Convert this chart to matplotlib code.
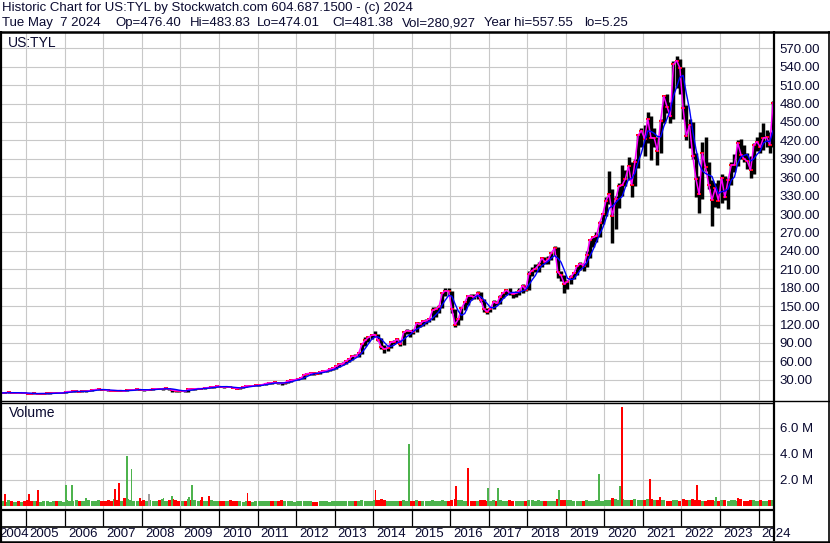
import matplotlib
matplotlib.use("Agg")
import matplotlib.pyplot as plt
import numpy as np
import pandas as pd

plt.rcParams["font.family"] = ["Liberation Sans", "DejaVu Sans"]

# monthly bars, May 2004 .. May 2024
close = [
    8.5, 8.9, 9.5, 8.8, 8.8, 8.5, 8.9, 8.4,
    7.5, 7.4, 7.6, 7.3, 7.5, 7.5, 7.6, 7.7, 8.3, 8.0, 8.8, 8.8,
    10.5, 10.8, 11.0, 11.3, 10.5, 11.1, 11.2, 12.0, 13.0, 14.0, 14.3, 14.1,
    13.5, 12.5, 12.2, 12.3, 12.2, 12.4, 11.5, 12.8, 13.3, 13.5, 14.5, 14.1,
    13.0, 13.0, 14.0, 14.5, 15.3, 14.4, 15.5, 16.0, 15.2, 13.0, 12.3, 12.0,
    12.0, 11.0, 14.9, 14.5, 15.0, 15.6, 15.5, 16.5, 17.1, 17.9, 18.3, 19.9,
    18.8, 17.9, 18.7, 17.9, 16.9, 15.5, 16.8, 18.0, 20.2, 19.5, 19.9, 20.8,
    21.0, 22.0, 23.7, 24.8, 24.5, 25.7, 24.6, 24.0, 25.3, 28.0, 29.2, 30.1,
    31.0, 32.5, 38.4, 40.0, 40.5, 40.4, 40.0, 43.0, 44.0, 45.0, 47.5, 48.4,
    52.0, 55.0, 56.0, 60.6, 63.3, 68.5, 68.0, 73.5, 87.5, 94.0, 98.9, 102.4,
    103.5, 95.0, 83.7, 80.0, 82.0, 91.0, 92.0, 95.8, 88.4, 107.0, 110.0, 109.4,
    108.0, 122.0, 120.6, 125.0, 126.0, 129.0, 143.0, 145.0, 149.0, 171.0, 175.0, 174.0,
    145.0, 120.0, 128.6, 146.4, 156.0, 166.8, 166.4, 164.6, 170.7, 159.8, 145.0, 141.0,
    146.0, 157.0, 154.5, 165.3, 172.0, 175.7, 172.0, 170.0, 171.0, 175.0, 183.0, 177.0,
    203.0, 208.0, 211.0, 217.0, 228.0, 222.0, 226.0, 237.0, 244.0, 205.0, 200.0, 186.0,
    190.0, 197.0, 204.0, 215.0, 219.0, 216.0, 233.0, 258.0, 262.0, 264.0, 285.0, 300.0,
    322.0, 332.0, 297.0, 324.0, 345.0, 347.0, 357.0, 378.0, 348.0, 385.0, 428.0, 436.0,
    423.0, 455.0, 424.0, 424.0, 403.0, 452.0, 492.0, 475.0, 459.0, 544.0, 550.0, 538.0,
    472.0, 427.0, 445.0, 395.0, 357.0, 332.0, 399.0, 376.0, 347.0, 323.0, 342.0, 322.0,
    359.0, 327.0, 355.0, 380.0, 380.0, 416.0, 397.0, 390.0, 386.0, 372.0, 412.0, 418.0,
    409.0, 424.0, 425.0, 413.0, 481.0,
]
high = [
    9.0, 9.3, 9.9, 9.6, 9.1, 9.0, 9.2, 9.1,
    8.5, 7.9, 7.9, 7.7, 7.7, 7.8, 7.9, 8.0, 8.5, 8.4, 9.0, 9.1,
    10.9, 11.2, 11.4, 11.8, 11.5, 11.4, 11.6, 12.3, 13.3, 14.4, 14.8, 14.6,
    14.5, 13.8, 12.9, 12.8, 12.8, 12.9, 12.6, 13.0, 13.6, 14.0, 15.0, 14.8,
    14.2, 13.6, 14.3, 14.9, 15.6, 15.5, 15.8, 16.4, 16.6, 15.3, 13.3, 12.4,
    12.8, 12.2, 15.1, 15.5, 15.5, 16.0, 16.0, 16.9, 17.5, 18.3, 18.8, 20.1,
    20.0, 19.0, 18.9, 19.2, 18.3, 17.2, 17.2, 18.3, 20.4, 20.5, 20.4, 21.0,
    21.5, 22.4, 24.0, 25.5, 25.4, 26.2, 26.4, 24.8, 26.5, 28.3, 29.6, 30.6,
    31.5, 33.0, 38.8, 40.9, 41.3, 41.0, 41.9, 43.5, 44.8, 45.8, 48.4, 49.8,
    53.0, 56.0, 58.5, 61.3, 64.5, 69.5, 72.0, 74.8, 88.6, 99.0, 101.0, 103.8,
    110.0, 105.0, 98.0, 86.0, 84.5, 92.0, 95.0, 97.5, 95.5, 108.5, 112.5, 111.5,
    112.0, 124.0, 124.5, 127.5, 129.0, 131.0, 149.0, 149.0, 151.0, 173.5, 180.0, 179.0,
    175.0, 146.0, 130.0, 148.0, 157.5, 168.0, 169.0, 169.5, 175.0, 172.5, 161.0, 147.0,
    149.0, 159.5, 159.0, 167.5, 173.5, 177.0, 180.0, 173.0, 174.0, 180.0, 185.5, 184.0,
    207.0, 214.0, 218.0, 222.0, 230.0, 230.5, 232.0, 238.0, 248.0, 246.0, 208.0, 201.0,
    192.0, 200.0, 206.0, 217.0, 222.0, 220.0, 239.0, 260.0, 265.0, 270.0, 288.0, 302.0,
    328.0, 370.0, 340.0, 330.0, 350.0, 380.0, 372.0, 393.0, 384.0, 390.0, 430.0, 440.0,
    445.0, 467.0, 460.0, 440.0, 425.0, 455.0, 494.0, 495.0, 482.0, 550.0, 557.5, 553.0,
    540.0, 478.0, 455.0, 450.0, 400.0, 362.0, 418.0, 425.0, 385.0, 355.0, 350.0, 355.0,
    365.0, 362.0, 358.0, 385.0, 398.0, 420.0, 422.0, 412.0, 400.0, 394.0, 415.0, 425.0,
    433.0, 448.0, 437.0, 433.0, 484.0,
]
low = [
    7.9, 8.3, 8.7, 8.4, 8.3, 8.0, 8.3, 8.1,
    7.2, 7.1, 7.2, 6.9, 7.1, 7.2, 7.3, 7.4, 7.6, 7.7, 7.9, 8.4,
    8.8, 10.1, 10.5, 10.8, 10.2, 10.3, 10.6, 11.0, 11.9, 12.8, 13.6, 13.8,
    13.1, 12.3, 11.8, 11.9, 11.9, 12.0, 11.2, 11.0, 12.5, 12.9, 13.4, 13.6,
    12.0, 12.5, 12.6, 13.6, 14.4, 14.2, 13.8, 15.0, 13.8, 10.5, 10.6, 10.5,
    11.2, 10.2, 10.4, 13.6, 13.9, 14.6, 14.6, 15.2, 16.1, 16.8, 17.3, 18.1,
    18.1, 17.2, 17.6, 17.6, 16.2, 15.3, 15.2, 16.6, 17.8, 19.2, 19.0, 19.6,
    20.1, 20.8, 21.6, 23.4, 23.6, 23.9, 23.8, 20.7, 23.0, 24.4, 26.8, 28.8,
    29.5, 30.6, 32.0, 37.2, 38.0, 37.3, 39.3, 39.4, 42.5, 42.3, 44.0, 46.0,
    48.0, 50.8, 54.0, 55.5, 59.5, 62.5, 66.4, 67.8, 72.5, 85.0, 91.5, 96.0,
    100.0, 92.5, 80.5, 74.0, 76.5, 82.0, 89.0, 90.0, 85.5, 86.0, 104.5, 100.0,
    104.0, 107.5, 116.0, 118.0, 121.5, 124.0, 127.5, 132.0, 138.0, 146.5, 167.0, 168.0,
    138.0, 116.0, 119.0, 127.5, 144.0, 152.0, 160.5, 162.0, 162.0, 156.0, 140.0, 136.5,
    140.5, 144.5, 151.0, 153.0, 164.0, 168.0, 167.5, 164.0, 165.5, 168.5, 172.0, 175.0,
    177.0, 199.0, 205.0, 206.0, 214.0, 218.0, 218.0, 225.0, 233.0, 195.0, 191.0, 172.0,
    178.0, 186.0, 194.0, 201.0, 209.0, 207.0, 214.0, 229.0, 247.0, 254.0, 263.0, 283.0,
    296.0, 317.0, 253.0, 275.0, 310.0, 330.0, 345.0, 355.0, 328.0, 345.0, 375.0, 410.0,
    395.0, 415.0, 388.0, 410.0, 380.0, 400.0, 448.0, 465.0, 448.0, 455.0, 505.0, 495.0,
    455.0, 420.0, 408.0, 390.0, 328.0, 301.0, 325.0, 370.0, 340.0, 281.0, 312.0, 310.0,
    318.0, 323.0, 308.0, 348.0, 368.0, 378.0, 390.0, 384.0, 373.0, 358.0, 366.0, 403.0,
    400.0, 405.0, 410.0, 400.0, 409.0,
]
volume_m = [
    0.40, 0.32, 0.45, 0.35, 0.30, 0.38, 0.34, 0.40,
    0.50, 0.40, 0.35, 0.38, 0.32, 0.40, 0.35, 0.30, 0.38, 0.36, 0.40, 0.34,
    0.45, 0.40, 0.38, 0.50, 0.42, 0.36, 0.40, 0.45, 0.38, 0.40, 0.43, 0.37,
    0.40, 0.45, 0.38, 0.55, 0.50, 0.42, 0.60, 0.55, 0.45, 0.40, 0.38, 0.42,
    0.45, 0.40, 0.50, 0.42, 0.38, 0.45, 0.55, 0.40, 0.50, 0.55, 0.45, 0.40,
    0.40, 0.38, 0.55, 0.50, 0.45, 0.40, 0.48, 0.42, 0.38, 0.45, 0.40, 0.38,
    0.40, 0.35, 0.38, 0.45, 0.40, 0.38, 0.35, 0.32, 0.40, 0.38, 0.34, 0.36,
    0.38, 0.40, 0.36, 0.42, 0.35, 0.38, 0.40, 0.45, 0.40, 0.42, 0.36, 0.34,
    0.35, 0.38, 0.42, 0.40, 0.36, 0.34, 0.32, 0.35, 0.38, 0.40, 0.34, 0.36,
    0.38, 0.40, 0.36, 0.42, 0.38, 0.40, 0.35, 0.38, 0.45, 0.42, 0.38, 0.36,
    0.45, 0.50, 0.55, 0.48, 0.42, 0.38, 0.40, 0.36, 0.40, 0.50, 0.42, 0.38,
    0.40, 0.45, 0.38, 0.42, 0.36, 0.38, 0.45, 0.40, 0.38, 0.50, 0.42, 0.40,
    0.50, 0.55, 0.45, 0.48, 0.40, 0.42, 0.40, 0.38, 0.36, 0.50, 0.45, 0.40,
    0.42, 0.48, 0.40, 0.45, 0.38, 0.40, 0.45, 0.40, 0.38, 0.42, 0.40, 0.36,
    0.45, 0.50, 0.42, 0.48, 0.40, 0.38, 0.42, 0.40, 0.38, 0.55, 0.48, 0.50,
    0.45, 0.50, 0.40, 0.42, 0.38, 0.40, 0.48, 0.42, 0.40, 0.45, 0.40, 0.38,
    0.45, 0.50, 0.65, 0.55, 0.50, 0.55, 0.45, 0.50, 0.48, 0.52, 0.46, 0.50,
    0.50, 0.55, 0.52, 0.48, 0.50, 0.45, 0.48, 0.40, 0.42, 0.50, 0.45, 0.40,
    0.55, 0.50, 0.45, 0.52, 0.48, 0.45, 0.42, 0.40, 0.45, 0.50, 0.42, 0.40,
    0.45, 0.48, 0.42, 0.50, 0.45, 0.40, 0.55, 0.42, 0.38, 0.48, 0.45, 0.40,
    0.45, 0.42, 0.40, 0.46, 0.50,
]

# single-day volume spikes (fractional year, millions, up/down/unchanged)
spike_when = [2004.45, 2005.08, 2005.31, 2006.04, 2006.19, 2006.56, 2007.31, 2007.41,
              2007.62, 2007.73, 2007.96, 2008.19, 2008.56, 2008.79, 2009.23, 2009.31,
              2009.57, 2009.73, 2010.74, 2014.06, 2014.92, 2016.14, 2016.45, 2016.99,
              2017.23, 2018.81, 2019.85, 2020.40, 2020.45, 2021.18, 2021.44, 2022.40,
              2022.89, 2023.46]
spike_vol = [0.92, 0.90, 1.20, 1.60, 1.65, 0.60, 1.30, 1.75,
             3.85, 2.85, 0.60, 0.90, 0.65, 0.80, 0.70, 1.60,
             0.70, 0.80, 1.00, 1.20, 4.80, 1.50, 2.90, 1.40,
             1.40, 1.25, 2.45, 1.55, 7.65, 2.05, 0.70, 1.60,
             0.70, 0.65]
spike_dir = ["dn", "dn", "dn", "up", "up", "up", "dn", "dn",
             "up", "up", "dn", "flat", "up", "up", "up", "up",
             "dn", "dn", "dn", "dn", "up", "dn", "dn", "up",
             "up", "up", "up", "up", "dn", "dn", "dn", "dn",
             "up", "dn"]

years = list(range(2004, 2025))
price_ticks = list(range(30, 571, 30))
volume_ticks = [2, 4, 6]

header = "Historic Chart for US:TYL by Stockwatch.com 604.687.1500 - (c) 2024"
quote_fields = [("Tue May  7 2024", 2), ("Op=476.40", 115), ("Hi=483.83", 190),
                ("Lo=474.01", 257), ("Cl=481.38", 332), ("Vol=280,927", 402),
                ("Year hi=557.55", 484), ("lo=5.25", 584)]

W, H = 830, 543
GRID = "#c8c8c8"
TXT = "#0a0a30"
DIR_COLORS = {"up": "#4db34d", "dn": "#ff0000", "flat": "#a0a0a0"}

dates = pd.date_range("2004-05-01", periods=len(close), freq="MS")
t = dates.year + (dates.month - 1) / 12 + 0.5 / 12
close_s = pd.Series(close)
slow_ma = close_s.rolling(4, min_periods=1).mean()
month_dir = np.where(close_s.diff().fillna(0) >= 0, "up", "dn")

fig = plt.figure(figsize=(W / 100, H / 100), dpi=100)


def px_axes(x0, y0, x1, y1):
    return fig.add_axes([x0 / W, 1 - y1 / H, (x1 - x0) / W, (y1 - y0) / H])


XMIN, XMAX = 2004.37, 2024.40

price_ax = px_axes(2, 33, 774, 400)
vol_ax = px_axes(2, 403, 774, 509)
year_ax = px_axes(2, 509, 774, 541)

for ax in (price_ax, vol_ax, year_ax):
    ax.set_xlim(XMIN, XMAX)
    for s in ax.spines.values():
        s.set_visible(False)
    ax.tick_params(length=0)

# price panel
price_ax.set_ylim(-3, 595)
price_ax.set_xticks(years[1:])
price_ax.set_xticklabels([])
price_ax.set_yticks(price_ticks)
price_ax.set_yticklabels([f"{v:.2f}" for v in price_ticks])
price_ax.yaxis.tick_right()
price_ax.tick_params(axis="y", pad=4, labelsize=9.5, labelcolor=TXT)
price_ax.grid(color=GRID, lw=0.8)
price_ax.set_axisbelow(True)
price_ax.vlines(t, low, high, color="black", lw=2.5, zorder=2)
price_ax.plot(t, close, ls="none", marker="_", ms=3.5, mew=1.4, color="red", zorder=3)
price_ax.plot(t, close, color="#ff00ff", lw=1.1, zorder=4)
price_ax.plot(t, slow_ma, color="#0000ff", lw=1.0, zorder=5)
price_ax.text(0.008, 0.974, "US:TYL", transform=price_ax.transAxes, fontsize=10,
              color=TXT, ha="left", va="center")

# volume panel
vol_ax.set_ylim(-0.23, 7.92)
vol_ax.set_xticks(years[1:])
vol_ax.set_xticklabels([])
vol_ax.set_yticks(volume_ticks)
vol_ax.set_yticklabels([f"{v:.1f} M" for v in volume_ticks])
vol_ax.yaxis.tick_right()
vol_ax.tick_params(axis="y", pad=4, labelsize=9.5, labelcolor=TXT)
vol_ax.grid(color=GRID, lw=0.8)
vol_ax.set_axisbelow(True)
vol_ax.bar(t, volume_m, width=0.08, color=[DIR_COLORS[d] for d in month_dir], zorder=2)
vol_ax.bar(spike_when, spike_vol, width=0.05, color=[DIR_COLORS[d] for d in spike_dir], zorder=3)
vol_ax.text(0.009, 0.903, "Volume", transform=vol_ax.transAxes, fontsize=10,
            color=TXT, ha="left", va="center")

# year strip
year_ax.set_ylim(0, 1)
year_ax.set_xticks([])
year_ax.set_yticks([])
year_ax.vlines(years[1:], 0.47, 1, color="black", lw=0.9)
for y in years:
    year_ax.text(max(y + 0.08, XMIN - 0.08), 0.22, str(y), fontsize=9.5, color=TXT,
                 ha="left", va="center", clip_on=False)

# frame / header
frame = fig.add_axes([0, 0, 1, 1], zorder=10)
frame.set_xlim(0, W)
frame.set_ylim(H, 0)
frame.axis("off")
frame.patch.set_visible(False)
k = dict(color="black", solid_capstyle="butt")
frame.plot([0, W], [31.5, 31.5], lw=1.8, **k)
frame.plot([1, 1], [31, H], lw=1.6, **k)
frame.plot([774, 774], [31, 541], lw=1.6, **k)
frame.plot([828.5, 828.5], [31, H], lw=1.2, **k)
frame.plot([0, W], [400.5, 400.5], lw=1.0, **k)
frame.plot([0, 774], [402.8, 402.8], lw=1.0, **k)
frame.plot([0, 774], [509.5, 509.5], lw=1.6, **k)
frame.plot([0, 774], [526.5, 526.5], lw=1.2, **k)
frame.plot([0, W], [541.5, 541.5], lw=1.8, **k)

frame.text(2, 8, header, fontsize=9.5, color=TXT, ha="left", va="center")
for label, x in quote_fields:
    frame.text(x, 23, label, fontsize=9.5, color=TXT, ha="left", va="center")

fig.savefig("out.png", dpi=100, facecolor="white")
